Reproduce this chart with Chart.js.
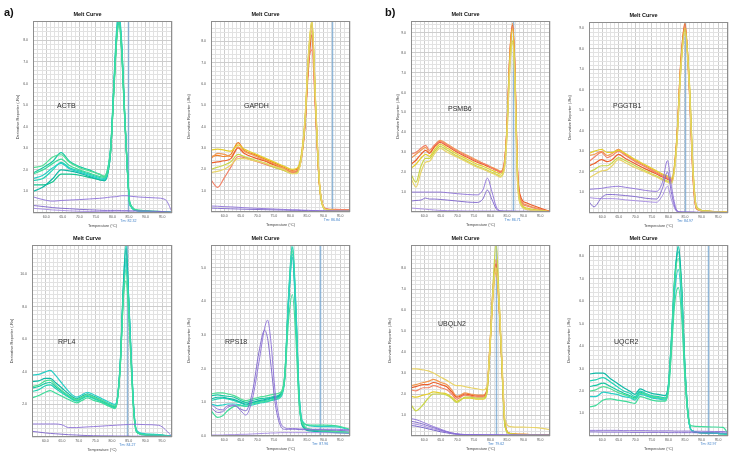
<!DOCTYPE html>
<html>
<head>
<meta charset="utf-8">
<script src="https://cdn.jsdelivr.net/npm/chart.js@4.4.0/dist/chart.umd.min.js"></script>
<style>
  body { margin: 0; background: #fff; width: 737px; height: 458px; position: relative; overflow: hidden;
         font-family: "Liberation Sans", Arial, sans-serif; }
  canvas { position: absolute; z-index: 1; }
  .tag { position: absolute; z-index: 2; font-weight: bold; font-size: 11px; color: #111; }
  .gene { position: absolute; z-index: 2; font-size: 7px; color: #333; }
</style>
</head>
<body>
<div class="tag" style="left:4px;top:6px">a)</div>
<div class="tag" style="left:385px;top:6px">b)</div>

<div class="gene" style="left:57px;top:102px">ACTB</div>
<div class="gene" style="left:244px;top:102px">GAPDH</div>
<div class="gene" style="left:448px;top:105px">PSMB6</div>
<div class="gene" style="left:613px;top:102px">PGGTB1</div>
<div class="gene" style="left:58px;top:338px">RPL4</div>
<div class="gene" style="left:225px;top:338px">RPS18</div>
<div class="gene" style="left:438px;top:320px">UBQLN2</div>
<div class="gene" style="left:614px;top:338px">UQCR2</div>

<script>
// ---- data: temperature (°C) grid and derivative reporter (-Rn) per well ----

// ACTB
const actbTemp = [56, 59, 62, 64.5, 67, 70, 73, 76, 77.5, 78.5, 79.5, 80.5, 81.3, 82, 82.8, 83.6, 84.4, 85.3, 88, 93, 96, 98];
const actbRuns = [
  [1.8, 2.0, 2.3, 2.5, 2.2, 2.0, 1.85, 1.7, 1.65, 1.9, 3.0, 6.0, 8.2, 8.9, 7.6, 4.9, 2.4, 0.4, 0.12, 0.08, 0.05, 0.02],
  [1.6, 1.75, 2.1, 2.3, 2.05, 1.9, 1.75, 1.6, 1.55, 1.85, 3.1, 6.3, 8.6, 9.3, 7.9, 5.0, 2.3, 0.35, 0.1, 0.06, 0.04, 0.02],
  [2.1, 2.2, 2.6, 2.7, 2.35, 2.1, 1.95, 1.8, 1.7, 2.0, 3.0, 5.8, 8.0, 8.7, 7.5, 4.7, 2.3, 0.4, 0.12, 0.08, 0.05, 0.03],
  [1.0, 1.2, 1.6, 2.0, 1.95, 1.85, 1.7, 1.55, 1.5, 1.8, 2.9, 6.0, 8.3, 9.0, 7.7, 4.8, 2.3, 0.4, 0.1, 0.05, 0.04, 0.02],
  [1.5, 1.6, 2.0, 2.35, 2.1, 1.95, 1.8, 1.65, 1.6, 1.9, 3.05, 6.1, 8.4, 9.1, 7.8, 5.0, 2.4, 0.45, 0.12, 0.07, 0.05, 0.02],
  [1.85, 2.1, 2.4, 2.8, 2.4, 2.15, 2.0, 1.8, 1.7, 2.0, 3.1, 6.0, 8.1, 8.8, 7.4, 4.8, 2.35, 0.4, 0.1, 0.06, 0.04, 0.02],
  [1.3, 1.3, 1.45, 1.8, 1.8, 1.75, 1.65, 1.55, 1.5, 1.75, 2.9, 5.9, 8.2, 9.0, 7.6, 4.9, 2.3, 0.4, 0.1, 0.06, 0.04, 0.02]
];
const actbNtc = [
  [0.75, 0.62, 0.55, 0.58, 0.6, 0.62, 0.65, 0.68, 0.7, 0.72, 0.74, 0.75, 0.76, 0.78, 0.8, 0.8, 0.8, 0.78, 0.74, 0.7, 0.62, 0.05],
  [0.35, 0.3, 0.25, 0.22, 0.2, 0.17, 0.15, 0.13, 0.12, 0.12, 0.12, 0.12, 0.12, 0.12, 0.11, 0.11, 0.11, 0.1, 0.1, 0.08, 0.06, 0.04],
  [0.22, 0.18, 0.14, 0.12, 0.1, 0.08, 0.07, 0.06, 0.06, 0.06, 0.06, 0.05, 0.05, 0.05, 0.05, 0.05, 0.05, 0.05, 0.04, 0.04, 0.03, 0.03]
];

// GAPDH
const gapdhTemp = [56, 58, 60, 62, 64.2, 66, 69, 72, 75, 78, 80.5, 82, 83.3, 84.4, 85.4, 86.5, 87.6, 88.7, 89.8, 91, 94, 98];
const gapdhRuns = [
  [1.85, 1.9, 2.0, 2.2, 2.5, 2.5, 2.4, 2.3, 2.15, 2.0, 1.8, 1.8, 2.5, 4.3, 7.2, 8.95, 5.2, 1.6, 0.3, 0.1, 0.06, 0.05],
  [2.0, 2.1, 2.2, 2.35, 2.7, 2.6, 2.45, 2.3, 2.1, 1.95, 1.8, 1.85, 2.55, 4.2, 7.1, 8.9, 5.1, 1.5, 0.25, 0.1, 0.06, 0.05],
  [2.9, 2.95, 2.9, 2.85, 3.15, 2.95, 2.75, 2.55, 2.35, 2.15, 2.0, 2.05, 2.7, 4.4, 7.3, 9.0, 5.1, 1.4, 0.25, 0.1, 0.07, 0.05],
  [1.5, 1.15, 1.6, 2.1, 2.6, 2.55, 2.4, 2.25, 2.1, 1.95, 1.85, 1.9, 2.5, 4.1, 6.9, 7.6, 4.6, 1.4, 0.3, 0.15, 0.12, 0.1],
  [2.3, 2.35, 2.4, 2.5, 3.0, 2.75, 2.55, 2.4, 2.2, 2.0, 1.85, 1.9, 2.5, 4.0, 6.6, 8.3, 4.8, 1.4, 0.3, 0.13, 0.1, 0.08],
  [2.5, 2.75, 2.7, 2.6, 3.05, 2.85, 2.65, 2.45, 2.25, 2.05, 1.9, 1.95, 2.6, 4.2, 6.9, 8.5, 4.9, 1.4, 0.3, 0.12, 0.1, 0.1],
  [2.6, 2.65, 2.6, 2.7, 3.25, 2.9, 2.7, 2.5, 2.3, 2.1, 1.95, 2.0, 2.6, 4.2, 7.0, 8.8, 5.0, 1.5, 0.3, 0.12, 0.08, 0.06]
];
const gapdhNtc = [
  [0.28, 0.27, 0.25, 0.24, 0.22, 0.2, 0.18, 0.16, 0.14, 0.12, 0.1, 0.1, 0.09, 0.08, 0.08, 0.07, 0.07, 0.06, 0.06, 0.05, 0.05, 0.04],
  [0.18, 0.17, 0.16, 0.15, 0.14, 0.13, 0.12, 0.11, 0.1, 0.09, 0.08, 0.08, 0.07, 0.07, 0.06, 0.06, 0.06, 0.05, 0.05, 0.05, 0.04, 0.04]
];

// PSMB6
const psmb6Temp = [56, 57.5, 59, 60.4, 61.6, 63, 64.8, 67, 70, 73, 76, 77.7, 79.1, 80.4, 81.8, 83, 84.1, 84.9, 85.9, 86.7, 87.4, 88.1, 88.9, 91, 95, 98];
const psmb6Runs = [
  [1.7, 1.25, 2.0, 2.5, 2.55, 2.9, 3.2, 3.0, 2.75, 2.5, 2.25, 2.15, 2.05, 1.95, 1.85, 1.75, 2.05, 3.5, 7.3, 8.5, 6.5, 1.8, 0.45, 0.12, 0.05, 0.02],
  [1.9, 1.5, 2.3, 2.7, 2.7, 3.0, 3.3, 3.1, 2.8, 2.55, 2.3, 2.2, 2.1, 2.0, 1.9, 1.8, 2.1, 3.6, 7.4, 8.6, 6.6, 1.9, 0.5, 0.15, 0.06, 0.02],
  [2.2, 2.4, 2.7, 2.9, 2.8, 3.1, 3.4, 3.2, 2.9, 2.65, 2.4, 2.3, 2.2, 2.1, 2.0, 1.9, 2.2, 3.8, 7.8, 9.2, 7.0, 2.2, 0.6, 0.2, 0.08, 0.02],
  [2.9, 3.0, 3.2, 3.35, 3.1, 3.35, 3.55, 3.35, 3.05, 2.8, 2.55, 2.45, 2.35, 2.2, 2.1, 2.0, 2.35, 3.9, 8.0, 9.3, 7.1, 2.4, 0.7, 0.3, 0.12, 0.02],
  [2.4, 2.6, 2.9, 3.1, 2.95, 3.25, 3.5, 3.3, 3.0, 2.75, 2.5, 2.4, 2.3, 2.2, 2.1, 2.0, 2.3, 3.9, 8.0, 9.4, 7.2, 2.5, 0.9, 0.45, 0.2, 0.03],
  [2.7, 2.9, 3.1, 3.25, 3.0, 3.3, 3.6, 3.4, 3.1, 2.85, 2.6, 2.45, 2.35, 2.25, 2.15, 2.05, 2.4, 4.0, 8.1, 9.5, 7.3, 2.4, 0.8, 0.35, 0.15, 0.02]
];
const psmb6Ntc = [
  [1.0, 1.0, 1.0, 1.0, 1.0, 1.0, 1.0, 0.97, 0.92, 0.88, 0.86, 1.1, 1.7, 1.05, 0.25, 0.06, 0.04, 0.04, 0.04, 0.04, 0.03, 0.03, 0.03, 0.03, 0.02, 0.02],
  [0.55, 0.58, 0.6, 0.7, 0.65, 0.65, 0.63, 0.6, 0.55, 0.5, 0.48, 0.65, 1.1, 0.65, 0.15, 0.05, 0.04, 0.04, 0.04, 0.03, 0.03, 0.03, 0.03, 0.03, 0.02, 0.02],
  [0.2, 0.18, 0.16, 0.14, 0.12, 0.1, 0.08, 0.07, 0.06, 0.05, 0.05, 0.05, 0.05, 0.05, 0.05, 0.05, 0.04, 0.04, 0.04, 0.04, 0.04, 0.04, 0.03, 0.03, 0.03, 0.02]
];

// PGGTB1
const pggtb1Temp = [56, 57.5, 59.8, 61.5, 63, 64.9, 67, 70, 73, 76.4, 78.2, 79.7, 81, 82.5, 83.7, 85, 86.3, 87.5, 88.5, 91, 95, 98];
const pggtb1Runs = [
  [1.7, 1.85, 2.05, 2.1, 2.3, 2.6, 2.45, 2.2, 2.0, 1.75, 1.6, 1.5, 1.45, 3.2, 6.9, 8.8, 6.1, 1.7, 0.25, 0.08, 0.05, 0.03],
  [2.0, 2.1, 2.3, 2.3, 2.45, 2.7, 2.55, 2.3, 2.05, 1.8, 1.65, 1.55, 1.5, 3.3, 6.8, 8.9, 6.4, 1.9, 0.3, 0.1, 0.05, 0.03],
  [2.9, 3.0, 3.1, 2.95, 2.95, 3.05, 2.9, 2.6, 2.35, 2.05, 1.9, 1.8, 1.7, 3.5, 7.1, 9.0, 6.5, 2.0, 0.3, 0.1, 0.06, 0.03],
  [2.5, 2.7, 2.95, 2.7, 2.8, 3.0, 2.8, 2.5, 2.25, 1.95, 1.8, 1.7, 1.6, 3.4, 7.0, 9.1, 6.3, 1.8, 0.3, 0.1, 0.06, 0.03],
  [2.3, 2.4, 2.6, 2.5, 2.6, 2.85, 2.65, 2.4, 2.15, 1.9, 1.75, 1.65, 1.55, 3.5, 7.3, 9.2, 6.0, 1.5, 0.2, 0.08, 0.05, 0.03],
  [2.8, 2.85, 3.0, 2.8, 2.9, 3.1, 2.85, 2.55, 2.3, 2.0, 1.85, 1.75, 1.65, 3.6, 7.2, 9.3, 6.2, 1.6, 0.2, 0.08, 0.05, 0.03]
];
const pggtb1Ntc = [
  [1.15, 1.17, 1.2, 1.25, 1.28, 1.3, 1.25, 1.18, 1.1, 1.05, 1.5, 2.55, 1.2, 0.15, 0.05, 0.04, 0.04, 0.04, 0.03, 0.03, 0.03, 0.02],
  [0.55, 0.3, 0.75, 0.9, 0.9, 0.88, 0.85, 0.8, 0.72, 0.68, 1.2, 2.0, 0.9, 0.1, 0.05, 0.04, 0.04, 0.04, 0.03, 0.03, 0.03, 0.02],
  [0.75, 0.72, 0.7, 0.7, 0.7, 0.68, 0.64, 0.6, 0.56, 0.52, 0.85, 1.3, 0.6, 0.08, 0.04, 0.04, 0.04, 0.03, 0.03, 0.03, 0.03, 0.02]
];

// RPL4
const rpl4Temp = [56, 58, 60, 61.5, 63, 65, 67, 69.4, 71, 72.6, 74.5, 77, 79, 80.9, 81.6, 82.5, 83.4, 84.2, 85, 85.8, 86.6, 87.4, 90, 94, 98];
const rpl4Runs = [
  [2.4, 2.55, 2.75, 2.85, 2.7, 2.5, 2.3, 2.1, 2.25, 2.4, 2.25, 2.1, 1.9, 1.75, 2.2, 4.4, 8.6, 10.3, 7.8, 4.2, 1.3, 0.3, 0.12, 0.1, 0.04],
  [3.8, 3.85, 4.0, 4.1, 3.8, 3.3, 2.8, 2.45, 2.6, 2.75, 2.6, 2.35, 2.15, 2.0, 2.4, 4.5, 8.8, 10.7, 8.5, 4.8, 1.6, 0.4, 0.2, 0.15, 0.05],
  [3.1, 3.2, 3.45, 3.5, 3.2, 2.85, 2.55, 2.3, 2.45, 2.6, 2.45, 2.25, 2.05, 1.9, 2.3, 4.4, 8.5, 9.6, 7.6, 4.3, 1.4, 0.35, 0.15, 0.12, 0.05],
  [3.4, 3.45, 3.6, 3.6, 3.35, 3.0, 2.65, 2.35, 2.5, 2.65, 2.5, 2.25, 2.05, 1.9, 2.35, 4.7, 9.3, 11.6, 8.6, 4.7, 1.5, 0.35, 0.15, 0.12, 0.05],
  [2.8, 2.9, 3.15, 3.2, 3.0, 2.7, 2.45, 2.2, 2.35, 2.5, 2.35, 2.15, 1.95, 1.8, 2.25, 4.5, 9.1, 12.0, 8.4, 4.5, 1.4, 0.3, 0.13, 0.1, 0.04],
  [3.0, 3.1, 3.3, 3.35, 3.1, 2.8, 2.5, 2.25, 2.4, 2.55, 2.4, 2.2, 2.0, 1.85, 2.3, 4.6, 9.0, 11.0, 8.3, 4.6, 1.5, 0.35, 0.15, 0.12, 0.05]
];
const rpl4Ntc = [
  [0.8, 0.8, 0.8, 0.8, 0.8, 0.75, 0.58, 0.58, 0.6, 0.62, 0.64, 0.67, 0.7, 0.72, 0.73, 0.74, 0.75, 0.76, 0.77, 0.78, 0.78, 0.78, 0.76, 0.72, 0.05],
  [0.35, 0.3, 0.25, 0.22, 0.2, 0.17, 0.14, 0.12, 0.1, 0.09, 0.08, 0.07, 0.07, 0.06, 0.06, 0.06, 0.06, 0.06, 0.06, 0.05, 0.05, 0.05, 0.05, 0.05, 0.04]
];

// RPS18
const rps18Temp = [56, 58, 59.5, 61, 63, 65, 66.5, 68.5, 70.5, 72.2, 73.1, 74, 75.5, 77, 78.3, 79.4, 80.6, 81.6, 82.6, 83.6, 86, 90, 94, 98];
const rps18Runs = [
  [0.75, 0.55, 0.6, 0.75, 0.88, 0.9, 0.88, 0.95, 1.0, 1.02, 1.04, 1.06, 1.1, 1.18, 1.7, 3.4, 4.2, 3.0, 1.0, 0.4, 0.32, 0.32, 0.3, 0.2],
  [0.95, 0.9, 0.92, 0.95, 0.95, 0.92, 0.88, 0.92, 0.97, 1.0, 1.02, 1.05, 1.08, 1.15, 1.7, 3.9, 5.4, 3.8, 1.3, 0.45, 0.3, 0.28, 0.27, 0.18],
  [1.25, 1.28, 1.28, 1.25, 1.2, 1.1, 1.05, 1.1, 1.15, 1.18, 1.2, 1.22, 1.25, 1.3, 1.85, 4.0, 5.5, 3.9, 1.25, 0.38, 0.2, 0.16, 0.13, 0.1],
  [1.1, 1.15, 1.15, 1.12, 1.08, 1.0, 0.95, 1.0, 1.05, 1.08, 1.1, 1.12, 1.15, 1.22, 1.75, 3.9, 5.3, 3.6, 1.1, 0.3, 0.15, 0.12, 0.1, 0.08],
  [1.05, 1.1, 1.12, 1.1, 1.05, 0.98, 0.92, 0.98, 1.02, 1.05, 1.07, 1.1, 1.12, 1.2, 1.8, 4.1, 5.7, 4.0, 1.3, 0.4, 0.2, 0.17, 0.14, 0.1],
  [1.2, 1.22, 1.2, 1.18, 1.15, 1.05, 1.0, 1.05, 1.1, 1.12, 1.13, 1.15, 1.18, 1.25, 1.8, 4.0, 5.6, 3.8, 1.2, 0.35, 0.18, 0.15, 0.12, 0.1]
];
const rps18Ntc = [
  [0.95, 0.8, 0.78, 0.9, 0.92, 0.75, 0.62, 1.1, 2.2, 3.2, 3.44, 2.9, 1.2, 0.4, 0.25, 0.22, 0.22, 0.22, 0.21, 0.21, 0.2, 0.2, 0.2, 0.18],
  [0.85, 0.7, 0.72, 0.85, 0.9, 0.8, 0.75, 1.3, 2.5, 3.14, 2.9, 2.2, 0.9, 0.3, 0.2, 0.2, 0.2, 0.2, 0.19, 0.19, 0.18, 0.18, 0.17, 0.15],
  [0.03, 0.03, 0.03, 0.04, 0.04, 0.05, 0.05, 0.06, 0.07, 0.08, 0.08, 0.09, 0.09, 0.1, 0.1, 0.1, 0.1, 0.1, 0.1, 0.1, 0.1, 0.1, 0.09, 0.08]
];

// UBQLN2
const ubqln2Temp = [56, 57.5, 59.7, 61.2, 62.8, 65, 66.8, 68.3, 69.8, 71, 72.3, 74, 76, 77.8, 78.9, 79.9, 80.9, 81.7, 82.7, 83.7, 84.4, 86, 90, 94, 98];
const ubqln2Runs = [
  [3.2, 3.2, 3.15, 3.1, 3.0, 2.8, 2.65, 2.5, 2.4, 2.4, 2.35, 2.3, 2.25, 2.2, 2.35, 4.4, 7.1, 8.0, 6.2, 2.9, 0.8, 0.45, 0.42, 0.4, 0.3],
  [1.5, 1.2, 1.5, 1.8, 2.0, 2.0, 1.95, 1.8, 1.6, 1.7, 1.85, 1.85, 1.8, 1.8, 2.05, 4.4, 7.5, 9.2, 6.3, 2.4, 0.45, 0.1, 0.06, 0.05, 0.04],
  [1.9, 1.85, 1.95, 2.0, 2.1, 2.05, 2.0, 1.85, 1.65, 1.75, 1.8, 1.8, 1.75, 1.75, 2.0, 4.2, 7.0, 8.0, 5.9, 2.5, 0.5, 0.12, 0.08, 0.06, 0.05],
  [2.2, 2.15, 2.3, 2.3, 2.4, 2.3, 2.2, 2.0, 1.75, 1.85, 1.95, 1.9, 1.85, 1.85, 2.1, 4.3, 7.0, 7.8, 5.9, 2.6, 0.5, 0.1, 0.07, 0.05, 0.04],
  [2.3, 2.35, 2.45, 2.45, 2.55, 2.45, 2.35, 2.1, 1.85, 1.9, 2.0, 1.95, 1.9, 1.9, 2.15, 4.4, 7.2, 8.2, 6.0, 2.6, 0.55, 0.12, 0.08, 0.06, 0.05],
  [2.4, 2.45, 2.55, 2.6, 2.7, 2.55, 2.45, 2.2, 1.9, 1.95, 2.05, 2.0, 1.95, 1.95, 2.2, 4.5, 7.4, 8.4, 6.1, 2.5, 0.5, 0.12, 0.08, 0.06, 0.05]
];
const ubqln2Ntc = [
  [0.83, 0.78, 0.65, 0.55, 0.45, 0.32, 0.22, 0.15, 0.1, 0.08, 0.07, 0.06, 0.06, 0.05, 0.05, 0.05, 0.05, 0.05, 0.05, 0.05, 0.05, 0.04, 0.04, 0.04, 0.04],
  [0.7, 0.66, 0.56, 0.48, 0.4, 0.28, 0.2, 0.14, 0.1, 0.08, 0.07, 0.06, 0.06, 0.05, 0.05, 0.05, 0.05, 0.05, 0.05, 0.05, 0.04, 0.04, 0.04, 0.04, 0.04],
  [0.6, 0.56, 0.48, 0.4, 0.34, 0.25, 0.18, 0.13, 0.09, 0.07, 0.06, 0.06, 0.05, 0.05, 0.05, 0.05, 0.05, 0.05, 0.04, 0.04, 0.04, 0.04, 0.04, 0.04, 0.03],
  [0.5, 0.47, 0.4, 0.34, 0.28, 0.2, 0.15, 0.11, 0.08, 0.06, 0.05, 0.05, 0.05, 0.05, 0.04, 0.04, 0.04, 0.04, 0.04, 0.04, 0.04, 0.04, 0.03, 0.03, 0.03]
];

// UQCR2
const uqcr2Temp = [56, 58, 60.3, 62.5, 64.5, 66.5, 68.3, 69.9, 71.4, 73, 75, 77, 79, 80, 80.8, 81.9, 83, 84, 85, 86, 87, 90, 94, 96.5, 98];
const uqcr2Runs = [
  [1.3, 1.35, 1.6, 1.65, 1.6, 1.55, 1.5, 1.45, 1.75, 1.7, 1.6, 1.55, 1.55, 2.0, 3.5, 5.9, 6.6, 5.3, 2.5, 0.8, 0.45, 0.42, 0.4, 0.38, 0.1],
  [1.75, 1.75, 1.95, 1.9, 1.85, 1.75, 1.7, 1.6, 1.85, 1.8, 1.7, 1.65, 1.6, 2.1, 3.7, 6.4, 7.4, 5.9, 2.7, 0.8, 0.25, 0.15, 0.12, 0.1, 0.08],
  [2.0, 2.05, 2.2, 2.1, 1.95, 1.85, 1.75, 1.65, 1.9, 1.85, 1.75, 1.7, 1.65, 2.15, 3.9, 6.9, 7.9, 6.3, 2.9, 0.85, 0.25, 0.15, 0.12, 0.1, 0.08],
  [2.75, 2.8, 2.8, 2.55, 2.35, 2.15, 2.0, 1.85, 2.1, 2.0, 1.9, 1.85, 1.8, 2.3, 3.9, 6.8, 8.5, 6.7, 3.1, 0.9, 0.25, 0.15, 0.12, 0.1, 0.08],
  [2.45, 2.5, 2.6, 2.4, 2.2, 2.0, 1.9, 1.75, 2.0, 1.9, 1.8, 1.75, 1.7, 2.25, 4.1, 7.1, 8.4, 6.4, 2.9, 0.85, 0.25, 0.15, 0.12, 0.1, 0.08],
  [2.2, 2.25, 2.35, 2.2, 2.05, 1.9, 1.8, 1.7, 1.95, 1.85, 1.75, 1.7, 1.65, 2.2, 4.0, 7.0, 8.2, 6.5, 3.0, 0.9, 0.25, 0.15, 0.12, 0.1, 0.08]
];
const uqcr2Ntc = [
  [0.25, 0.25, 0.25, 0.25, 0.25, 0.24, 0.24, 0.24, 0.24, 0.24, 0.23, 0.23, 0.23, 0.23, 0.23, 0.22, 0.22, 0.22, 0.22, 0.22, 0.21, 0.21, 0.2, 0.2, 0.18],
  [0.18, 0.18, 0.17, 0.17, 0.17, 0.17, 0.16, 0.16, 0.16, 0.16, 0.16, 0.16, 0.16, 0.15, 0.15, 0.15, 0.15, 0.15, 0.15, 0.15, 0.15, 0.14, 0.14, 0.14, 0.13]
];

// melting temperatures shown under each plot
const tmValues = [84.8, 92.5, 86.7, 85.0, 84.6, 89.0, 81.7, 92.1];
const tmLabels = ['Tm: 82.32', 'Tm: 86.84', 'Tm: 86.71', 'Tm: 84.97', 'Tm: 84.27', 'Tm: 87.96', 'Tm: 79.62', 'Tm: 82.97'];

// ---- colours ----
const tealColors = ['#3fdc9a', '#29cfc6', '#52de96', '#10b9a6', '#22d4b4', '#17c9a3', '#14c48f'];
const warmColors = ['#e9d46a', '#c9d64a', '#e5cf2e', '#f2846a', '#ec5e2a', '#f29a52', '#f07f22'];
const purpleColors = ['#8c70d8', '#7c62cc', '#a489e2', '#6a56c4'];

Chart.defaults.font.family = '"Liberation Sans", Arial, sans-serif';

// draws the Tm marker line, its label and the plot frame
const tmMark = {
  id: 'tmMark',
  beforeDatasetsDraw(chart, args, opts) {
    const { ctx, chartArea: a, scales: { x } } = chart;
    const px = Math.round(x.getPixelForValue(opts.value)) + 0.5;
    ctx.save();
    ctx.strokeStyle = 'rgba(110,160,205,0.75)';
    ctx.lineWidth = 1.5;
    ctx.beginPath();
    ctx.moveTo(px, a.top);
    ctx.lineTo(px, a.bottom);
    ctx.stroke();
    ctx.restore();
  },
  afterDraw(chart, args, opts) {
    const { ctx, chartArea: a, scales: { x } } = chart;
    ctx.save();
    ctx.strokeStyle = '#8e8e8e';
    ctx.lineWidth = 1;
    ctx.strokeRect(a.left + 0.5, a.top + 0.5, a.right - a.left - 1, a.bottom - a.top - 1);
    ctx.fillStyle = '#3d7fc8';
    ctx.font = '3.6px "Liberation Sans", Arial, sans-serif';
    ctx.textAlign = 'center';
    ctx.textBaseline = 'middle';
    ctx.fillText(opts.text, x.getPixelForValue(opts.value), a.bottom + 8);
    ctx.restore();
  }
};

const panels = [
  { temps: actbTemp, runs: actbRuns, ntc: actbNtc, colors: tealColors, box: [33, 21, 139, 192], yMax: 8.9, yStep: 0.2, yEvery: 1, gap: 15 },
  { temps: gapdhTemp, runs: gapdhRuns, ntc: gapdhNtc, colors: warmColors, box: [211, 21, 139, 191], yMax: 8.95, yStep: 0.2, yEvery: 1, gap: 22 },
  { temps: psmb6Temp, runs: psmb6Runs, ntc: psmb6Ntc, colors: warmColors, box: [411, 21, 139, 191], yMax: 9.6, yStep: 0.2, yEvery: 1, gap: 13 },
  { temps: pggtb1Temp, runs: pggtb1Runs, ntc: pggtb1Ntc, colors: warmColors, box: [589, 22, 139, 191], yMax: 9.3, yStep: 0.2, yEvery: 1, gap: 19 },
  { temps: rpl4Temp, runs: rpl4Runs, ntc: rpl4Ntc, colors: tealColors, box: [32, 245, 140, 192], yMax: 11.8, yStep: 0.25, yEvery: 2, gap: 20 },
  { temps: rps18Temp, runs: rps18Runs, ntc: rps18Ntc, colors: tealColors, box: [211, 245, 139, 191], yMax: 5.67, yStep: 0.125, yEvery: 1, zero: true, gap: 22 },
  { temps: ubqln2Temp, runs: ubqln2Runs, ntc: ubqln2Ntc, colors: warmColors, box: [411, 245, 139, 191], yMax: 9.1, yStep: 0.2, yEvery: 1, gap: 21 },
  { temps: uqcr2Temp, runs: uqcr2Runs, ntc: uqcr2Ntc, colors: tealColors, box: [589, 245, 139, 191], yMax: 8.5, yStep: 0.2, yEvery: 1, gap: 20 }
];

function curve(temps, vals, color, width) {
  return {
    data: temps.map((t, i) => ({ x: t, y: vals[i] })),
    borderColor: color,
    borderWidth: width,
    pointRadius: 0,
    cubicInterpolationMode: 'monotone',
    clip: 0
  };
}

function isMultiple(v, step) {
  return Math.abs(v / step - Math.round(v / step)) < 1e-6;
}

function gridColor(ctx) {
  return ctx.tick && ctx.tick.label ? '#cdcdcd' : '#e2e2e2';
}

panels.forEach((p, idx) => {
  const [bx, by, bw, bh] = p.box;
  const cv = document.createElement('canvas');
  cv.width = bw + 35;
  cv.height = bh + 38;
  cv.style.left = (bx - 30) + 'px';
  cv.style.top = (by - 21) + 'px';
  document.body.appendChild(cv);

  const datasets = [];
  p.ntc.forEach((v, i) => datasets.push(curve(p.temps, v, purpleColors[i % purpleColors.length], 0.9)));
  p.runs.forEach((v, i) => datasets.push(curve(p.temps, v, p.colors[i % p.colors.length], 1.2)));

  new Chart(cv, {
    type: 'line',
    data: { datasets: datasets },
    plugins: [tmMark],
    options: {
      responsive: false,
      animation: false,
      devicePixelRatio: 1,
      layout: { padding: { left: 0, right: 5, top: 0, bottom: 0 } },
      plugins: {
        legend: { display: false },
        tooltip: { enabled: false },
        title: {
          display: true, text: 'Melt Curve', color: '#111',
          font: { size: 5.5, weight: 'bold' },
          padding: { top: 10.7, bottom: 3.7 }
        },
        tmMark: { value: tmValues[idx], text: tmLabels[idx] }
      },
      scales: {
        x: {
          type: 'linear', min: 56, max: 98,
          ticks: {
            stepSize: 1.25, autoSkip: false, maxRotation: 0, minRotation: 0,
            padding: 2, color: '#555', font: { size: 3.5 },
            callback: v => (isMultiple(v, 5) ? v.toFixed(1) : '')
          },
          grid: { color: gridColor, drawTicks: false },
          border: { display: false },
          title: {
            display: true, text: 'Temperature (°C)', color: '#444',
            font: { size: 3.8 }, padding: { top: 0, bottom: 2 }
          },
          afterFit: s => { s.height = 17; }
        },
        y: {
          type: 'linear', min: 0, max: p.yMax,
          ticks: {
            stepSize: p.yStep, autoSkip: false, padding: 5, color: '#555', font: { size: 3.5 },
            callback: v => (isMultiple(v, p.yEvery) && (v > 0 || p.zero) ? v.toFixed(1) : '')
          },
          grid: { color: gridColor, drawTicks: false },
          border: { display: false },
          title: {
            display: true, text: 'Derivative Reporter (-Rn)', color: '#444',
            font: { size: 4 }, padding: { top: 30 - p.gap - 2.4, bottom: 0 }
          },
          afterFit: s => { s.width = 30; }
        }
      }
    }
  });
});
</script>
</body>
</html>
